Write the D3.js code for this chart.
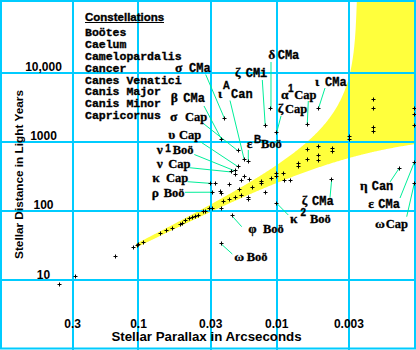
<!DOCTYPE html>
<html>
<head>
<meta charset="utf-8">
<script src="https://cdn.jsdelivr.net/npm/d3@7"></script>
<style>
  html, body { margin: 0; padding: 0; background: #fff; }
  svg { display: block; }
</style>
</head>
<body>
<svg id="chart" width="416" height="350"></svg>
<script>
// ---- Data -------------------------------------------------------------
// Axis ticks
const xTicks = [0.3, 0.1, 0.03, 0.01, 0.003];
const xTickLabels = ["0.3", "0.1", "0.03", "0.01", "0.003"];
const yTicks = [10, 100, 1000, 10000];
const yTickLabels = ["10", "100", "1000", "10,000"];

// Constellations covered by the star list
const constellations = ["Boötes", "Caelum", "Camelopardalis", "Cancer",
  "Canes Venatici", "Canis Major", "Canis Minor", "Capricornus"];

// Unlabelled stars: parallax (arcsec) and distance (light years)
const parallax = [0.374, 0.287, 0.1475, 0.1091, 0.1020, 0.0992, 0.0925, 0.0691,
  0.0625, 0.0563, 0.0495, 0.0481, 0.0456, 0.0424, 0.0405, 0.0388, 0.0369, 0.0339,
  0.0325, 0.0304, 0.0292, 0.0252, 0.0241, 0.0220, 0.0199, 0.0179, 0.0159, 0.0159,
  0.0121, 0.0254, 0.0249, 0.0186, 0.0150, 0.0129, 0.0129, 0.0109, 0.0100, 0.0100,
  0.00896, 0.00801, 0.00878, 0.0277, 0.0220, 0.0199, 0.01715, 0.0181, 0.0158,
  0.00698, 0.00698, 0.00597, 0.00597, 0.00500, 0.00500, 0.00500, 0.00396, 0.00396,
  0.00298, 0.00298, 0.00200, 0.00200, 0.00200, 0.00200, 0.00101, 0.00101, 0.00101];
const distance = [8.68, 11.25, 22.0, 29.7, 31.4, 32.4, 35.1, 47.1,
  52.0, 56.5, 63.1, 66.1, 72.5, 78.1, 80.7, 82.3, 85.1, 97.2,
  99.5, 108.2, 108.9, 108.9, 135.6, 145.0, 155.0, 167.9, 157.1, 145.0,
  183.0, 191.8, 181.2, 203.6, 221.2, 270.2, 246.2, 291.7, 346.8, 308.7,
  346.8, 274.8, 279.3, 250.3, 238.9, 335.4, 311.8, 279.3, 285.9,
  487, 445, 776, 544, 858, 642, 531, 797, 722,
  1189, 1075, 4101, 3039, 1593, 1427, 2969, 2489, 1686];

// Named stars: Bayer letter, superscript, constellation, parallax, distance
const starGreek = ["σ", "β", "σ", "υ", "ν", "ν", "κ", "ρ", "ι", "ε", "ζ", "δ",
  "ζ", "α", "ι", "ζ", "κ", "φ", "ω", "η", "ε", "ω"];
const starSup = ["", "", "", "", "1", "", "", "", "A", "B", "", "",
  "", "1", "", "", "2", "", "", "", "", ""];
const starCon = ["CMa", "CMa", "Cap", "Cap", "Boö", "Cap", "Cap", "Boö", "Can", "Boö", "CMi", "CMa",
  "Cap", "Cap", "CMa", "CMa", "Boö", "Boö", "Boö", "Can", "CMa", "Cap"];
const starParallax = [0.0239, 0.0251, 0.0190, 0.01905, 0.0200, 0.0214, 0.0302, 0.0291,
  0.01715, 0.01605, 0.0121, 0.0110, 0.0100, 0.00601, 0.00500, 0.00400, 0.0100,
  0.0210, 0.0252, 0.00130, 0.00101, 0.00101];
const starDistance = [2178, 1086, 734, 435, 377, 365, 250, 186,
  544, 521, 1686, 3039, 1367, 1784, 2969, 286, 128.6,
  84.3, 33.2, 412, 503, 250];

// Label placement for the named stars:
// [greek x, superscript x, abbreviation x, baseline, superscript baseline, leader start x, leader start y]
const labelLayout = [
  [175, 0, 189, 71.5, 0, 205.7, 74.5],
  [170.7, 0, 183.3, 102, 0, 204, 106],
  [170, 0, 185, 121, 0, 204, 124],
  [168.3, 0, 179, 139, 0, 200, 141.5],
  [156.7, 165.2, 172.7, 154.3, 151.5, 194.3, 154.5],
  [156.7, 0, 168.3, 168, 0, 189.5, 167.7],
  [152.3, 0, 166, 182, 0, 187.5, 181.7],
  [151.7, 0, 163.7, 196.5, 0, 185, 192.3],
  [218, 222.8, 231, 98, 88.5, 230, 100.5],
  [246.7, 254, 261, 148, 143.3, 248.3, 150],
  [235, 0, 245.7, 77, 0, 262.3, 80],
  [268.3, 0, 277.7, 59.3, 0, 271, 62],
  [277.7, 0, 285, 113.3, 0, 281, 116],
  [281, 288, 294.3, 98.7, 91.8, 308.3, 101],
  [315, 0, 325, 85.7, 0, 325, 88],
  [301.7, 0, 312, 205, 0, 330, 197.5],
  [290, 300.5, 310, 223.3, 216, 288.3, 215],
  [248.3, 0, 263, 233.3, 0, 241.7, 226.7],
  [234.3, 0, 246.7, 261, 0, 232.3, 254],
  [360, 0, 371.7, 190, 0, 390, 182],
  [368.3, 0, 378.3, 208, 0, 400, 198],
  [375, 0, 385.7, 228.3, 0, 406.7, 216.7]
];

// ---- Scales -----------------------------------------------------------
const W = 416, H = 350;
const x = d3.scaleLog().domain([1, 0.001]).range([0.3, 414.9]);
const y = d3.scaleLog().domain([1, 1e5]).range([349.2, 3.35]);

const GRID = "#00ccff";
const LEADER = "#00ee99";
const YELLOW = "#ffff3c";
const SANS = "'Liberation Sans', Arial, sans-serif";
const SERIF = "'Liberation Serif', 'Times New Roman', serif";
const MONO = "'Liberation Mono', 'Courier New', monospace";

const svg = d3.select("#chart");
svg.append("rect").attr("width", W).attr("height", H).attr("fill", "#fff");

// ---- Parallax uncertainty band ----------------------------------------
// Distances allowed by parallax ± error, with 1 pc = 3.2616 ly.
const LY_PER_PC = 3.2616;
const parallaxError = p => 0.0025 + 0.04 * p;
const bandFrom = 0.104, bandTo = 0.001, bandSteps = 400;
const bandP = d3.range(bandSteps + 1).map(i => bandFrom * Math.pow(bandTo / bandFrom, i / bandSteps));
const band = d3.area()
  .x(p => x(p))
  .y0(p => y(LY_PER_PC / (p + parallaxError(p))))
  .y1(p => {
    const q = p - parallaxError(p);
    return q > 0 ? Math.max(y(LY_PER_PC / q), -5) : -5;
  });
svg.append("path").datum(bandP).attr("d", band).attr("fill", YELLOW);

// ---- Grid ---------------------------------------------------------------
const grid = svg.append("g").attr("stroke", GRID).attr("stroke-width", 2).attr("shape-rendering", "crispEdges");
grid.selectAll("line.v").data(xTicks).join("line").attr("class", "v")
  .attr("x1", d => Math.round(x(d))).attr("x2", d => Math.round(x(d)))
  .attr("y1", 0).attr("y2", H);
grid.selectAll("line.h").data(yTicks).join("line").attr("class", "h")
  .attr("x1", 0).attr("x2", W)
  .attr("y1", d => Math.round(y(d))).attr("y2", d => Math.round(y(d)));
svg.append("rect").attr("x", 1).attr("y", 1).attr("width", 414).attr("height", 347.5)
  .attr("fill", "none").attr("stroke", GRID).attr("stroke-width", 2);

// ---- Tick labels and titles ----------------------------------------------
svg.append("g").selectAll("text").data(yTicks).join("text")
  .attr("x", 43.5).attr("y", d => y(d) - 1.5)
  .attr("text-anchor", "middle")
  .style("font", `bold 12px ${SANS}`)
  .text((d, i) => yTickLabels[i]);
svg.append("g").selectAll("text").data(xTicks).join("text")
  .attr("x", d => x(d)).attr("y", 327.5)
  .attr("text-anchor", "middle")
  .style("font", `bold 12px ${SANS}`)
  .text((d, i) => xTickLabels[i]);
svg.append("text").attr("x", 206.5).attr("y", 341).attr("text-anchor", "middle")
  .style("font", `bold 13.3px ${SANS}`).text("Stellar Parallax in Arcseconds");
svg.append("text").attr("transform", "translate(22.5,174.5) rotate(-90)")
  .attr("text-anchor", "middle")
  .style("font", `bold 11.8px ${SANS}`).text("Stellar Distance in Light Years");

// ---- Legend ---------------------------------------------------------------
const legend = svg.append("g").attr("fill", "#000").attr("stroke", "#000").attr("stroke-width", 0.35);
legend.append("text").attr("x", 85).attr("y", 20.7)
  .style("font", `bold 11.5px ${SANS}`).text("Constellations");
svg.append("rect").attr("x", 85).attr("y", 22).attr("width", 79).attr("height", 1).attr("fill", "#000");
legend.selectAll("text.item").data(constellations).join("text").attr("class", "item")
  .attr("x", 85).attr("y", (d, i) => 35.7 + i * 11.95)
  .style("font", `bold 11.5px ${MONO}`)
  .text(d => d);

// ---- Leader lines ---------------------------------------------------------
svg.append("g").attr("stroke", LEADER).attr("stroke-width", 1)
  .selectAll("line").data(labelLayout).join("line")
  .attr("x1", d => d[5]).attr("y1", d => d[6])
  .attr("x2", (d, i) => x(starParallax[i])).attr("y2", (d, i) => y(starDistance[i]));

// ---- Star markers -----------------------------------------------------------
const cross = (p, d) => {
  const cx = Math.floor(x(p)) + 0.5, cy = Math.floor(y(d)) + 0.5;
  return `M${cx - 2},${cy}h4M${cx},${cy - 2}v4`;
};
const marks = svg.append("g").attr("stroke", "#000").attr("stroke-width", 1).attr("fill", "none");
marks.selectAll("path.s").data(parallax).join("path").attr("class", "s")
  .attr("d", (p, i) => cross(p, distance[i]));
marks.selectAll("path.n").data(starParallax).join("path").attr("class", "n")
  .attr("d", (p, i) => cross(p, starDistance[i]));

// ---- Star labels ------------------------------------------------------------
const labels = svg.append("g").attr("fill", "#000").attr("stroke", "#000").attr("stroke-width", 0.3);
labelLayout.forEach((L, i) => {
  labels.append("text").attr("x", L[0]).attr("y", L[3])
    .style("font", `bold 13.5px ${SERIF}`).text(starGreek[i]);
  if (starSup[i]) {
    labels.append("text").attr("x", L[1]).attr("y", L[4])
      .style("font", `bold 10px ${SANS}`).text(starSup[i]);
  }
  const mono = starCon[i].startsWith("C") && starCon[i] !== "Cap";
  labels.append("text").attr("x", L[2]).attr("y", L[3])
    .style("font", mono ? `bold 12px ${MONO}` : `bold 12.5px ${SERIF}`)
    .text(starCon[i]);
});
</script>
</body>
</html>
